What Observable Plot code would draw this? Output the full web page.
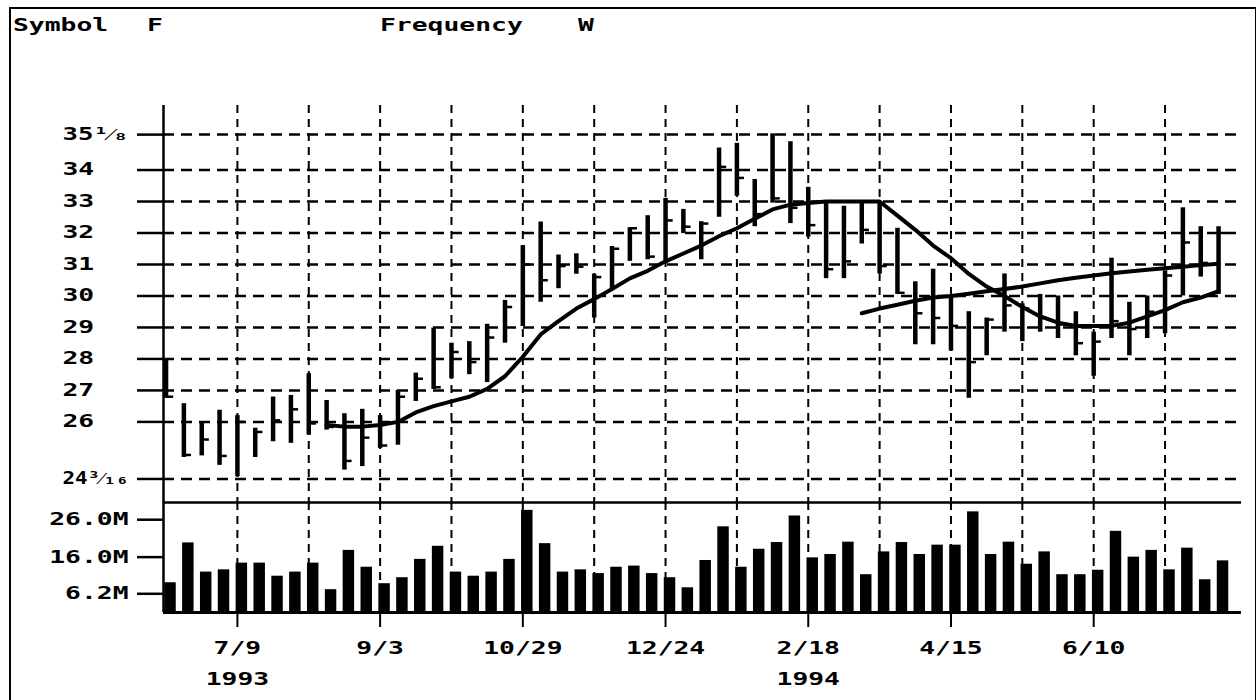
<!DOCTYPE html>
<html><head><meta charset="utf-8">
<script src="https://cdn.jsdelivr.net/npm/d3@7"></script>
<script src="https://cdn.jsdelivr.net/npm/@observablehq/plot@0.6"></script>
<style>
html,body{margin:0;padding:0;background:#fff;}
#wrap{position:relative;width:1257px;height:700px;overflow:hidden;background:#fff;font-family:"DejaVu Sans Mono",monospace;color:#000;}
#border{position:absolute;left:9px;top:7px;width:1244px;height:720px;border-left:2px solid #000;border-top:2px solid #000;border-right:1px solid #000;}
.hdr{position:absolute;top:15px;font-size:17px;font-weight:bold;line-height:normal;transform:scaleX(1.55);transform-origin:left top;white-space:pre;}
#wrap svg{position:absolute;left:0;}
#wrap svg text{font-weight:bold;}
</style></head><body>
<div id="wrap">
  <div id="border"></div>
  <div class="hdr" style="left:13px">Symbol</div>
  <div class="hdr" style="left:147px">F</div>
  <div class="hdr" style="left:380px">Frequency</div>
  <div class="hdr" style="left:578px">W</div>
</div>
<script>
// ---- data (weekly bars, Ford, 1993-1994) ----
const weeks = ["1993-06-11","1993-06-18","1993-06-25","1993-07-02","1993-07-09","1993-07-16","1993-07-23","1993-07-30","1993-08-06","1993-08-13","1993-08-20","1993-08-27","1993-09-03","1993-09-10","1993-09-17","1993-09-24","1993-10-01","1993-10-08","1993-10-15","1993-10-22","1993-10-29","1993-11-05","1993-11-12","1993-11-19","1993-11-26","1993-12-03","1993-12-10","1993-12-17","1993-12-24","1993-12-31","1994-01-07","1994-01-14","1994-01-21","1994-01-28","1994-02-04","1994-02-11","1994-02-18","1994-02-25","1994-03-04","1994-03-11","1994-03-18","1994-03-25","1994-04-01","1994-04-08","1994-04-15","1994-04-22","1994-04-29","1994-05-06","1994-05-13","1994-05-20","1994-05-27","1994-06-03","1994-06-10","1994-06-17","1994-06-24","1994-07-01","1994-07-08","1994-07-15","1994-07-22","1994-07-29"];
const high  = [28.0,26.58,26.0,26.37,26.2,25.8,26.79,26.84,27.53,26.68,26.26,26.4,26.2,27.0,27.55,28.98,28.5,28.55,29.1,29.86,31.6,32.35,31.3,31.34,30.69,31.57,32.17,32.55,33.1,32.75,32.36,34.7,34.85,33.7,35.15,34.9,33.45,32.95,32.85,32.95,33.0,32.15,30.45,30.85,29.95,29.5,29.3,30.7,29.75,30.05,30.0,29.5,28.85,31.2,29.8,30.0,30.8,32.8,32.2,32.2];
const low   = [26.75,24.87,24.92,24.62,24.26,24.87,25.37,25.32,25.58,25.74,24.47,24.58,25.16,25.26,26.65,27.03,27.37,27.5,27.25,28.5,29.03,29.8,30.23,30.69,29.3,30.23,31.1,31.15,31.05,31.98,31.15,32.5,33.17,32.2,32.95,32.3,31.87,30.55,30.55,31.65,30.7,30.05,28.45,28.45,28.25,26.75,28.1,28.85,28.55,28.85,28.65,28.1,27.45,28.65,28.1,28.65,28.8,30.0,30.6,30.05];
const close = [26.8,24.95,25.44,24.92,26.0,25.68,26.05,26.4,25.95,25.84,24.76,25.5,25.25,26.8,27.37,27.1,28.22,27.9,28.68,29.65,31.0,30.5,30.95,30.93,30.6,31.5,32.15,31.25,32.4,32.2,32.3,34.1,33.75,32.6,33.1,32.8,32.25,30.85,31.1,32.1,30.95,30.1,29.45,29.3,29.05,27.9,29.25,29.7,29.6,29.3,29.1,28.5,28.55,29.2,28.95,29.5,30.65,31.7,31.05,32.0];
const volume = [9.15,19.8,12.0,12.6,14.4,14.4,10.9,12.0,14.4,7.3,17.8,13.3,8.9,10.5,15.4,18.9,12.0,10.9,12.0,15.4,28.5,19.6,12.0,12.6,11.6,13.3,13.6,11.6,10.5,7.8,15.1,24.1,13.3,18.1,19.9,27.0,15.8,16.7,20.0,11.3,17.4,19.9,16.7,19.2,19.2,28.1,16.7,20.0,14.1,17.4,11.3,11.3,12.5,22.9,16.0,17.8,12.6,18.4,9.95,15.0];
const maShortFrom = 9;
const maShort = [25.9,25.85,25.85,25.9,26.0,26.3,26.5,26.65,26.8,27.05,27.45,28.07,28.78,29.2,29.6,29.9,30.22,30.56,30.8,31.1,31.35,31.6,31.9,32.15,32.45,32.75,32.9,32.95,33.0,33.0,33.0,33.0,32.55,32.1,31.6,31.2,30.7,30.3,30.0,29.65,29.35,29.15,29.05,29.05,29.05,29.15,29.35,29.55,29.8,29.95,30.15];
const maLongFrom = 39;
const maLong = [29.45,29.6,29.72,29.85,29.95,30.0,30.07,30.15,30.22,30.3,30.4,30.5,30.58,30.65,30.72,30.78,30.83,30.88,30.93,30.98,31.02];
const gridWeeks = ["1993-07-09","1993-08-06","1993-09-03","1993-10-01","1993-10-29","1993-11-26","1993-12-24","1994-01-21","1994-02-18","1994-03-18","1994-04-15","1994-05-13","1994-06-10","1994-07-08"];
const dateTicks = ["1993-07-09","1993-09-03","1993-10-29","1993-12-24","1994-02-18","1994-04-15","1994-06-10"];
const dateTickLabels = ["7/9\n1993","9/3","10/29","12/24","2/18\n1994","4/15","6/10"];
const priceTicks = [24.1875,26,27,28,29,30,31,32,33,34,35.125];
const priceTickLabels = ["24³⁄₁₆","26","27","28","29","30","31","32","33","34","35¹⁄₈"];
const volTicks = [6.2,16,26];
const volTickLabels = ["6.2M","16.0M","26.0M"];

// ---- build ----
const D = s => new Date(s);
const bars = weeks.map((w,i)=>({date:D(w),high:high[i],low:low[i],close:close[i],volume:volume[i]}));
const maS = maShort.map((v,i)=>({date:D(weeks[i+maShortFrom]),v}));
const maL = maLong.map((v,i)=>({date:D(weeks[i+maLongFrom]),v}));
const gridDates = gridWeeks.map(D);
const tickDates = dateTicks.map(D);
const xDomain = [D("1993-06-10"), D("1994-08-07")];
const priceDomain = [23.44, 36.05];
const volDomain = [1.2, 30.6];
const style = {fontFamily:"DejaVu Sans Mono", fontSize:"17px", fontWeight:"bold", color:"#000", background:"transparent", overflow:"visible"};

const pricePlot = Plot.plot({
  width:1257, height:502, marginLeft:163, marginRight:16, marginTop:105, marginBottom:0,
  style,
  x:{type:"utc", domain:xDomain, axis:null},
  y:{domain:priceDomain, axis:null},
  marks:[
    Plot.ruleY(priceTicks,{stroke:"#000",strokeWidth:2.5,strokeDasharray:"11,7"}),
    Plot.ruleX(gridDates,{stroke:"#000",strokeWidth:2,strokeDasharray:"8,6"}),
    Plot.ruleX([xDomain[0]],{stroke:"#000",strokeWidth:2.5}),
    Plot.ruleX(bars,{x:"date",y1:"low",y2:"high",stroke:"#000",strokeWidth:4.5}),
    Plot.ruleY(bars,{x1:"date",x2:d=>d3.utcHour.offset(d.date,72),y:"close",stroke:"#000",strokeWidth:2.5}),
    Plot.line(maS,{x:"date",y:"v",stroke:"#000",strokeWidth:4,strokeLinejoin:"round"}),
    Plot.line(maL,{x:"date",y:"v",stroke:"#000",strokeWidth:4,strokeLinejoin:"round"}),
    Plot.axisY({anchor:"left",label:null,ticks:priceTicks,tickFormat:d=>priceTickLabels[priceTicks.indexOf(d)],tickSize:26,tickPadding:75,textAnchor:"start",strokeWidth:2.5,fill:"#000"})
  ]
});

const volPlot = Plot.plot({
  width:1257, height:198, marginLeft:163, marginRight:16, marginTop:0, marginBottom:88,
  style,
  x:{type:"utc", domain:xDomain, axis:null},
  y:{domain:volDomain, axis:null},
  marks:[
    Plot.ruleX(gridDates,{stroke:"#000",strokeWidth:2,strokeDasharray:"8,6"}),
    Plot.rect(bars,{x1:d=>d3.utcHour.offset(d.date,-12),x2:d=>d3.utcHour.offset(d.date,96),y1:volDomain[0],y2:"volume",fill:"#000"}),
    Plot.ruleY([volDomain[1]],{stroke:"#000",strokeWidth:2.5}),
    Plot.ruleY([volDomain[0]],{stroke:"#000",strokeWidth:3}),
    Plot.ruleX([xDomain[0]],{stroke:"#000",strokeWidth:2.5}),
    Plot.axisY({anchor:"left",label:null,ticks:volTicks,tickFormat:d=>volTickLabels[volTicks.indexOf(d)],tickSize:26,tickPadding:9,strokeWidth:2.5,fill:"#000"}),
    Plot.axisX({anchor:"bottom",label:null,ticks:tickDates,tickFormat:d=>dateTickLabels[tickDates.findIndex(t=>+t===+d)],tickSize:15,tickPadding:4,lineHeight:1.85,strokeWidth:2,fill:"#000"})
  ]
});

const wrap = document.getElementById("wrap");
pricePlot.style.top = "0px";
volPlot.style.top = "502px";
wrap.appendChild(pricePlot);
wrap.appendChild(volPlot);

function stretch(svg, k, cap) {
  svg.querySelectorAll("text").forEach(t => {
    const spans = t.querySelectorAll("tspan");
    const els = spans.length ? Array.from(spans) : [t];
    els.forEach(e => {
      const L = e.getComputedTextLength();
      if (L > 0) {
        let w = L * k;
        if (cap && w > cap) w = cap;
        e.setAttribute("textLength", w);
        e.setAttribute("lengthAdjust", "spacingAndGlyphs");
      }
    });
  });
}
stretch(pricePlot, 1.55, 66);
stretch(volPlot, 1.55);
</script>
</body></html>
